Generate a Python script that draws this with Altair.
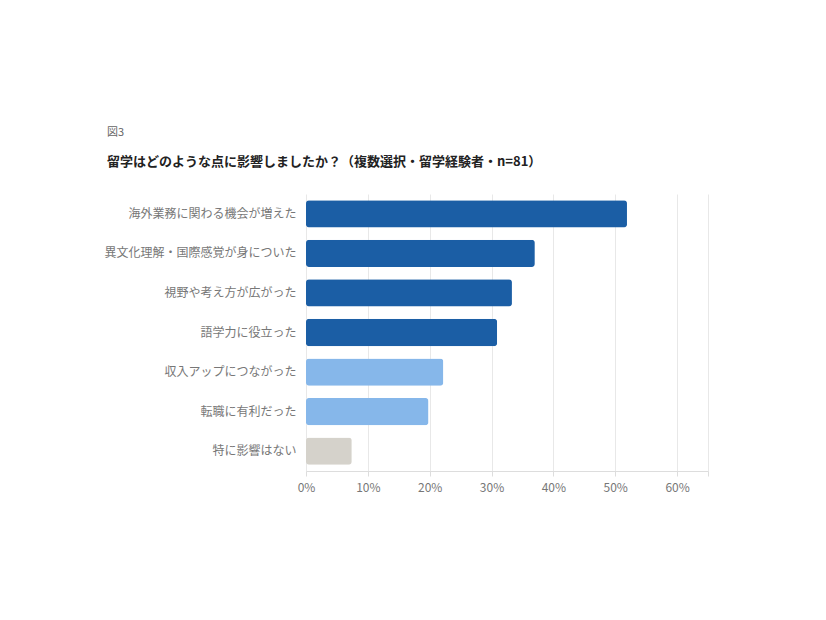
import altair as alt
import pandas as pd

categories = [
    "海外業務に関わる機会が増えた",
    "異文化理解・国際感覚が身についた",
    "視野や考え方が広がった",
    "語学力に役立った",
    "収入アップにつながった",
    "転職に有利だった",
    "特に影響はない",
]
values = [51.9, 37.0, 33.3, 30.9, 22.2, 19.8, 7.4]
groups = ["a", "a", "a", "a", "b", "b", "c"]
group_colors = ["#1b5ea5", "#86b7ea", "#d5d2cb"]
tick_values = [0, 10, 20, 30, 40, 50, 60, 65]

df = pd.DataFrame({"cat": categories, "val": values, "grp": groups})

FONT = "Noto Sans CJK JP"

chart = (
    alt.Chart(df)
    .mark_bar(cornerRadius=3)
    .encode(
        y=alt.Y(
            "cat:N",
            sort=categories,
            title=None,
            scale=alt.Scale(paddingInner=0.31, paddingOuter=0.155),
            axis=alt.Axis(
                ticks=False,
                domain=False,
                grid=False,
                labelPadding=10,
                labelLimit=300,
                labelFontSize=12,
                labelColor="#777777",
                labelFont=FONT,
            ),
        ),
        x=alt.X(
            "val:Q",
            title=None,
            scale=alt.Scale(domain=[0, 65], nice=False),
            axis=alt.Axis(
                values=tick_values,
                labelExpr="datum.value == 65 ? '' : datum.value + '%'",
                labelFlush=False,
                grid=True,
                gridColor="#e8e8e8",
                domainColor="#dddddd",
                tickColor="#dddddd",
                tickSize=5,
                labelPadding=6,
                labelFontSize=12,
                labelColor="#777777",
                labelFont=FONT,
            ),
        ),
        color=alt.Color(
            "grp:N",
            scale=alt.Scale(domain=["a", "b", "c"], range=group_colors),
            legend=None,
        ),
    )
    .properties(
        width=402,
        height=277,
        autosize=alt.AutoSizeParams(type="none"),
        padding={"left": 298, "top": 186, "right": 100, "bottom": 120},
        title=alt.TitleParams(
            text="図3",
            subtitle="留学はどのような点に影響しましたか？（複数選択・留学経験者・n=81）",
            anchor="start",
            frame="group",
            dx=-199,
            offset=25,
            font=FONT,
            fontSize=11,
            fontWeight="normal",
            color="#666666",
            subtitleFont=FONT,
            subtitleFontSize=13,
            subtitleFontWeight="bold",
            subtitleColor="#222222",
            subtitlePadding=18,
        ),
    )
    .configure_view(stroke=None)
)

chart.save("out.html", embed_options={"renderer": "svg", "actions": False})
